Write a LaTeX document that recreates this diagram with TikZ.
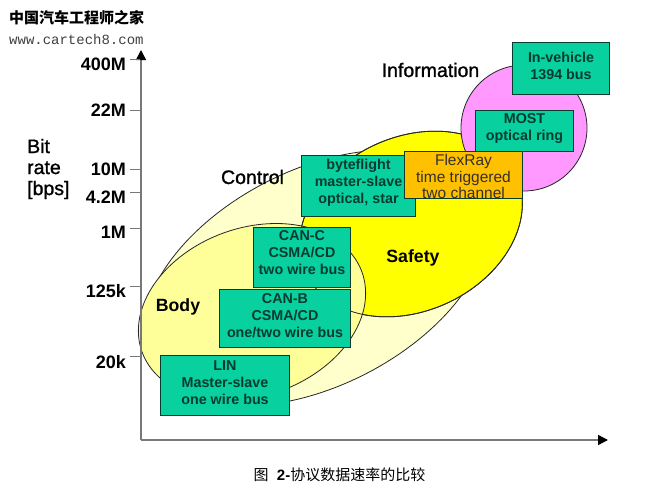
\documentclass[tikz,border=0pt]{standalone}
\usepackage{fontspec}
\setmainfont{Liberation Sans}
\newfontfamily\cjk{Noto Sans CJK SC}
\newfontfamily\wmono{Liberation Mono}
\newfontfamily\semi[FakeBold=1.2]{Liberation Sans}
\usetikzlibrary{arrows.meta}
\definecolor{boxgreen}{RGB}{8,208,158}
\definecolor{boxedge}{RGB}{10,60,45}
\definecolor{boxtxt}{RGB}{5,60,50}
\definecolor{paleyellow}{RGB}{255,255,204}
\definecolor{midyellow}{RGB}{255,255,153}
\definecolor{safetyyellow}{RGB}{255,255,0}
\definecolor{pink}{RGB}{255,153,255}
\definecolor{orangebox}{RGB}{255,192,0}
\definecolor{axisgrey}{RGB}{120,120,120}
\tikzset{
 pxbox/.style={draw=boxedge,line width=1pt,fill=boxgreen,inner sep=0pt,anchor=north west},
 pxtext/.style={text=boxtxt,align=center,font=\fontsize{14.3}{17}\selectfont\bfseries,inner sep=0pt},
 flextext/.style={text=black!92!yellow,align=center,font=\fontsize{15.5}{16.5}\selectfont,inner sep=0pt},
 blob/.style={draw=black!85,line width=0.8pt},
 ticklabel/.style={font=\fontsize{18}{20}\selectfont\bfseries,anchor=east,inner sep=0pt},
 tickmark/.style={draw=axisgrey,line width=1pt},
 axisline/.style={draw=axisgrey,line width=1.5pt},
 biglabel/.style={font=\semi\fontsize{19.5}{21}\selectfont,inner sep=0pt},
 boldlabel/.style={font=\fontsize{17.7}{20}\selectfont\bfseries,inner sep=0pt}
}
% name, x, y, w, h, box options, text style, text shift up, text
\newcommand{\pxnode}[9]{\node[pxbox,minimum width=#4pt,minimum height=#5pt,#6] (#1) at (#2,#3) {};
\node[#7] (#1-text) at ([yshift=#8pt]#1.center) {#9};}
% #1 style, #2 cx, #3 cy, #4 a, #5 b, #6 rotation (screen, counter-clockwise)
\newcommand{\pxellipse}[6]{\draw[#1] plot[domain=0:360,samples=145,variable=\t] ({#2+#4*cos(\t)*cos(#6)+#5*sin(\t)*sin(#6)},{#3-#4*cos(\t)*sin(#6)+#5*sin(\t)*cos(#6)}) -- cycle;}
\begin{document}
\begin{tikzpicture}[x=1pt,y=-1pt]
\useasboundingbox (0,0) rectangle (649,496);
\fill[white] (0,0) rectangle (649,496);
% ellipses
\pxellipse{blob,fill=paleyellow}{316}{278}{186}{108}{27}
\pxellipse{blob,fill=safetyyellow}{411}{224}{116}{87}{25}
\pxellipse{blob,fill=midyellow}{252}{312}{117}{84}{20}
\pxellipse{blob}{411}{224}{116}{87}{25}
\draw[blob,fill=pink] (524,128) circle [radius=63];
% boxes
\pxnode{invehicle}{512}{42}{97}{52}{}{pxtext}{2.5}{In-vehicle\\1394 bus}
\pxnode{most}{475}{110}{98}{41}{}{pxtext}{2}{MOST\\optical ring}
\pxnode{byteflight}{301}{155}{114}{61}{}{pxtext}{3}{byteflight\\master-slave\\optical, star}
\pxnode{flexray}{404}{151}{118}{47}{fill=orangebox}{flextext}{-1.5}{FlexRay\\time triggered\\two channel}
\pxnode{canc}{253}{227}{97}{60}{}{pxtext}{5}{CAN-C\\CSMA/CD\\two wire bus}
\pxnode{canb}{219}{289}{131}{58}{}{pxtext}{3}{CAN-B\\CSMA/CD\\one/two wire bus}
\pxnode{lin}{160}{355}{129}{60}{}{pxtext}{3}{LIN\\Master-slave\\one wire bus}
% axes
\coordinate (origin) at (141,440);
\coordinate (ytop) at (141,50);
\coordinate (xend) at (608,440);
\draw[axisline,-{Triangle[length=10pt,width=10pt,color=black]}] (origin) -- (ytop);
\draw[axisline,-{Triangle[length=10pt,width=10pt,color=black]}] (origin) -- (xend);
% ticks
\foreach \n/\t/\y in {a/400M/64,b/22M/110,c/10M/169,d/4.2M/197,e/1M/232,f/125k/291,g/20k/362}{
  \node[ticklabel] (lab\n) at (126,\y) {\t};
}
\foreach \y in {59,110,169,192,228,286,356}{\draw[tickmark] (130,\y) -- (140,\y);}
% labels
\node[anchor=west,align=left,inner sep=0pt,font=\semi\fontsize{19.5}{21}\selectfont] (bitrate) at (27,169) {Bit\\rate\\{[bps]}};
\node[biglabel] (control) at (252.5,177) {Control};
\node[biglabel] (information) at (430.5,70) {Information};
\node[boldlabel] (safety) at (413,258) {Safety};
\node[boldlabel] (body) at (178,307) {Body};
% watermark
\node[anchor=west,inner sep=0pt,font=\cjk\fontsize{15}{17}\selectfont\bfseries] (wmcn) at (9,18) {中国汽车工程师之家};
\node[anchor=west,inner sep=0pt,font=\wmono\fontsize{14}{16}\selectfont,text=black!75] (wmurl) at (9,39) {www.cartech8.com};
% caption
\node[inner sep=0pt,font=\fontsize{15}{17}\selectfont] (caption) at (339.5,475) {{\cjk 图}\ \ \textbf{2-}{\cjk 协议数据速率的比较}};
\end{tikzpicture}
\end{document}
